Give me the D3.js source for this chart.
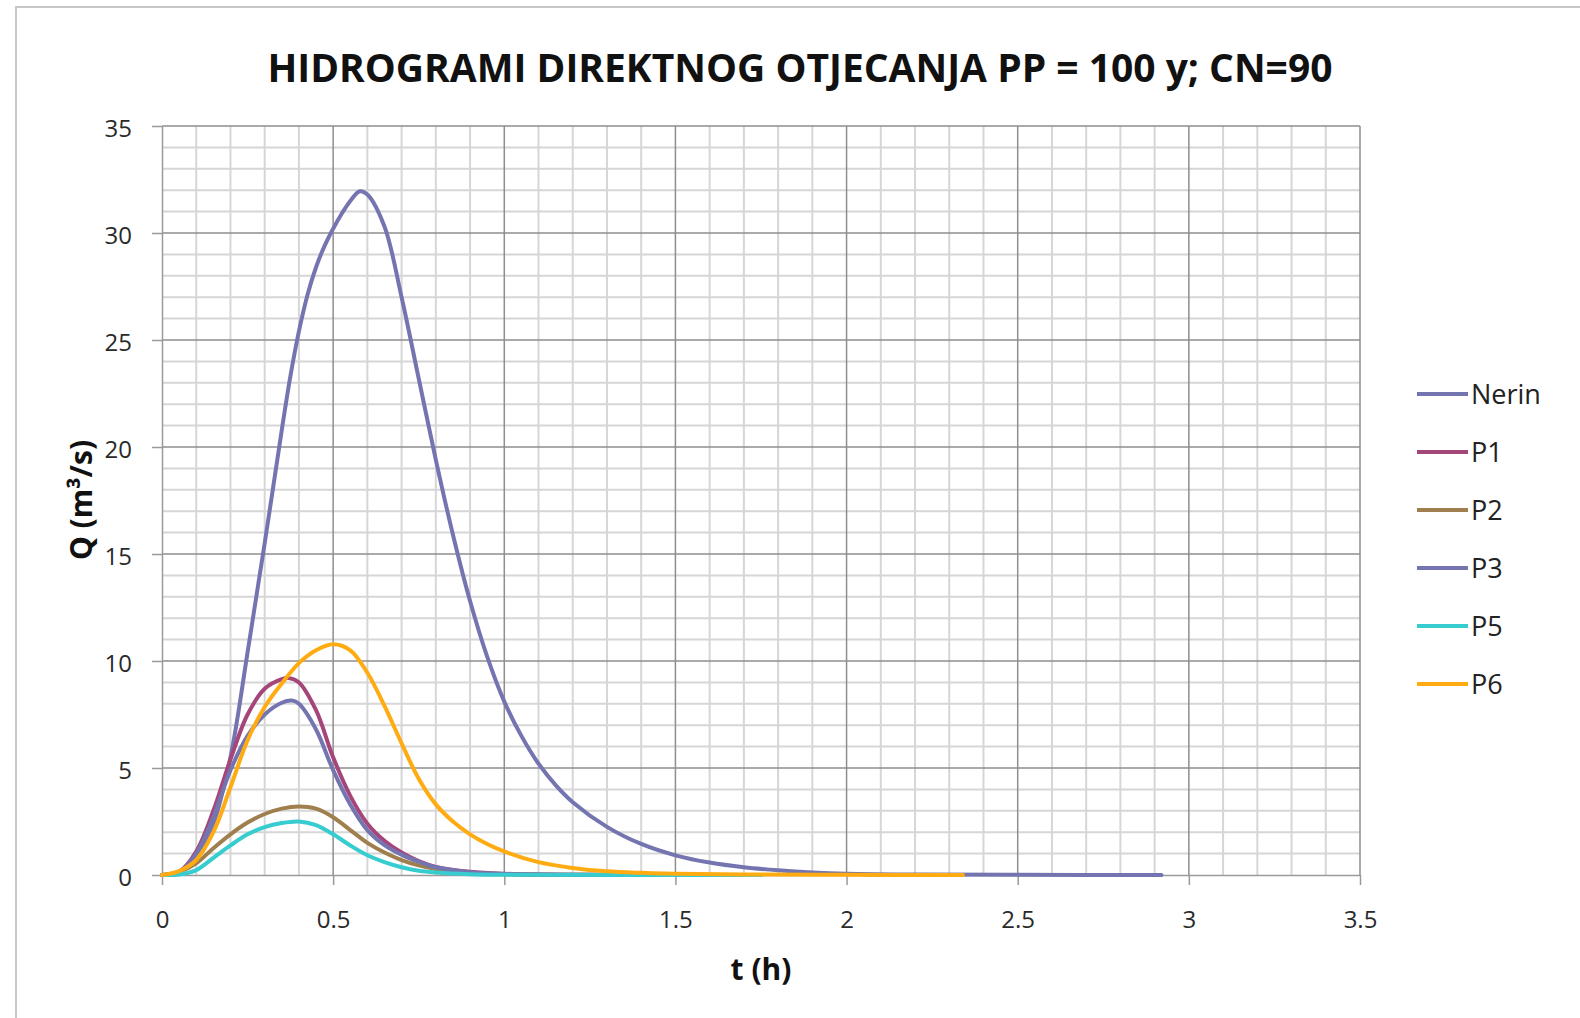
<!DOCTYPE html>
<html>
<head>
<meta charset="utf-8">
<script src="https://cdn.jsdelivr.net/npm/d3@7"></script>
<style>
  body { margin: 0; background: #fff; }
  .grid-minor line { stroke: #d6d6d6; stroke-width: 2; }
  .grid-major line { stroke: #8e8e8e; stroke-width: 1.5; }
  .axis path, .axis line { stroke: #9a9a9a; stroke-width: 1.5; }
  .axis text { font-family: "Open Sans", sans-serif; font-size: 24px; fill: #2a2a2a; }
</style>
</head>
<body>
<div id="chart"></div>
<script>
// t (h), Q (m3/s)
var nerin = [[0,0],[0.05,0.15],[0.1,0.8],[0.15,2.4],[0.2,5.5],[0.25,10.4],[0.3,15.5],[0.35,20.8],[0.375,23.3],[0.4,25.4],[0.425,27.1],[0.45,28.4],[0.475,29.4],[0.5,30.2],[0.525,30.9],[0.55,31.5],[0.578,31.95],[0.6,31.8],[0.65,30.3],[0.7,27.0],[0.75,23.2],[0.8,19.4],[0.85,15.9],[0.9,12.8],[0.95,10.2],[1.0,8.1],[1.05,6.5],[1.1,5.2],[1.15,4.2],[1.2,3.4],[1.3,2.25],[1.4,1.45],[1.5,0.92],[1.6,0.58],[1.7,0.36],[1.8,0.22],[1.9,0.12],[2.0,0.06],[2.2,0.02],[2.5,0.01],[2.92,0]];
var p1 = [[0,0],[0.05,0.15],[0.1,1.1],[0.15,3.0],[0.2,5.4],[0.25,7.5],[0.3,8.7],[0.35,9.15],[0.37,9.2],[0.4,9.0],[0.45,7.7],[0.5,5.5],[0.55,3.7],[0.6,2.4],[0.65,1.6],[0.7,1.05],[0.75,0.65],[0.8,0.38],[0.9,0.15],[1.0,0.06],[1.2,0.01],[1.75,0]];
var p2 = [[0,0],[0.05,0.15],[0.1,0.55],[0.15,1.25],[0.2,1.9],[0.25,2.45],[0.3,2.85],[0.35,3.1],[0.4,3.2],[0.45,3.1],[0.5,2.7],[0.55,2.1],[0.6,1.5],[0.65,1.05],[0.7,0.7],[0.75,0.45],[0.8,0.28],[0.9,0.1],[1.0,0.04],[1.2,0.01],[1.75,0]];
var p3 = [[0,0],[0.05,0.12],[0.1,1.0],[0.15,2.7],[0.2,4.9],[0.25,6.5],[0.3,7.5],[0.35,8.05],[0.38,8.15],[0.4,8.0],[0.45,6.8],[0.5,4.9],[0.55,3.3],[0.6,2.1],[0.65,1.4],[0.7,0.95],[0.75,0.62],[0.8,0.36],[0.9,0.13],[1.0,0.05],[1.2,0.01],[1.75,0]];
var p5 = [[0,0],[0.05,0.02],[0.1,0.23],[0.15,0.8],[0.2,1.38],[0.25,1.9],[0.3,2.24],[0.35,2.43],[0.4,2.5],[0.45,2.33],[0.5,1.9],[0.55,1.38],[0.6,0.92],[0.65,0.6],[0.7,0.36],[0.75,0.2],[0.8,0.12],[0.9,0.04],[1.0,0.01],[1.75,0]];
var p6 = [[0,0],[0.05,0.18],[0.1,0.7],[0.15,2.0],[0.2,4.1],[0.25,6.3],[0.3,7.85],[0.35,8.95],[0.4,9.9],[0.45,10.5],[0.5,10.78],[0.55,10.5],[0.6,9.45],[0.65,7.9],[0.7,6.15],[0.75,4.5],[0.8,3.3],[0.85,2.5],[0.9,1.9],[0.95,1.45],[1.0,1.1],[1.1,0.6],[1.2,0.33],[1.3,0.17],[1.4,0.1],[1.5,0.06],[1.7,0.02],[2.0,0.01],[2.34,0]];

var seriesNames = ["Nerin", "P1", "P2", "P3", "P5", "P6"];
var seriesColors = ["#7474b0", "#a5467b", "#a07f4e", "#7474b0", "#36ccd0", "#ffab12"];
var seriesData = [nerin, p1, p2, p3, p5, p6];

var xTicks = [0, 0.5, 1, 1.5, 2, 2.5, 3, 3.5];
var yTicks = [0, 5, 10, 15, 20, 25, 30, 35];

var titleText = "HIDROGRAMI DIREKTNOG OTJECANJA PP = 100 y; CN=90";

var margin = {top: 126, right: 220, bottom: 143, left: 162},
    width = 1580 - margin.left - margin.right,
    height = 1018 - margin.top - margin.bottom;

var svg = d3.select("#chart").append("svg")
    .attr("width", 1580)
    .attr("height", 1018)
    .style("display", "block");

// outer chart frame
svg.append("rect")
    .attr("x", 16).attr("y", 7)
    .attr("width", 1620).attr("height", 1060)
    .attr("fill", "#fff")
    .attr("stroke", "#c8c8c8")
    .attr("stroke-width", 2);

var g = svg.append("g")
    .attr("transform", "translate(" + margin.left + "," + margin.top + ")");

var xScale = d3.scaleLinear().domain([0, 3.5]).range([0, width]),
    yScale = d3.scaleLinear().domain([0, 35]).range([height, 0]);

// minor grid
g.append("g").attr("class", "grid-minor")
    .selectAll("line")
    .data(d3.range(1, 35).filter(function(d) { return d % 5 != 0; }))
    .enter().append("line")
    .attr("x1", 0).attr("x2", width)
    .attr("y1", function(d) { return yScale(d); })
    .attr("y2", function(d) { return yScale(d); });

g.append("g").attr("class", "grid-minor")
    .selectAll("line")
    .data(d3.range(1, 35).filter(function(d) { return d % 5 != 0; }))
    .enter().append("line")
    .attr("y1", 0).attr("y2", height)
    .attr("x1", function(d) { return xScale(d / 10); })
    .attr("x2", function(d) { return xScale(d / 10); });

// major grid
g.append("g").attr("class", "grid-major")
    .selectAll("line")
    .data(yTicks.slice(1))
    .enter().append("line")
    .attr("x1", 0).attr("x2", width)
    .attr("y1", function(d) { return yScale(d); })
    .attr("y2", function(d) { return yScale(d); });

g.append("g").attr("class", "grid-major")
    .selectAll("line")
    .data(xTicks.slice(1))
    .enter().append("line")
    .attr("y1", 0).attr("y2", height)
    .attr("x1", function(d) { return xScale(d); })
    .attr("x2", function(d) { return xScale(d); });

// axes
g.append("g")
    .attr("class", "x axis")
    .attr("transform", "translate(0," + height + ")")
    .call(d3.axisBottom(xScale).tickValues(xTicks).tickSize(10).tickSizeOuter(0).tickPadding(26)
        .tickFormat(function(d) { return d; }));

g.append("g")
    .attr("class", "y axis")
    .call(d3.axisLeft(yScale).tickValues(yTicks).tickSize(10).tickSizeOuter(0).tickPadding(20)
        .tickFormat(function(d) { return d; }))
    .selectAll("text")
    .attr("dy", "0.45em");

// curves (smoothed like the spreadsheet lines)
var line = d3.line()
    .x(function(d) { return xScale(d[0]); })
    .y(function(d) { return yScale(d[1]); })
    .curve(d3.curveCatmullRom.alpha(0.5));

g.selectAll(".series")
    .data(seriesData)
    .enter().append("path")
    .attr("class", "series")
    .attr("d", line)
    .attr("fill", "none")
    .attr("stroke", function(d, i) { return seriesColors[i]; })
    .attr("stroke-width", 4)
    .attr("stroke-linejoin", "round")
    .attr("stroke-linecap", "round");

// title
svg.append("text")
    .attr("x", 800)
    .attr("y", 66)
    .attr("text-anchor", "middle")
    .attr("dominant-baseline", "central")
    .attr("textLength", 1065)
    .attr("lengthAdjust", "spacingAndGlyphs")
    .style("font-family", "'Open Sans', sans-serif")
    .style("font-weight", "bold")
    .style("font-size", "40px")
    .style("fill", "#111")
    .text(titleText);

// axis titles
svg.append("text")
    .attr("transform", "translate(80," + 500 + ") rotate(-90)")
    .attr("text-anchor", "middle")
    .attr("dominant-baseline", "central")
    .style("font-family", "'Open Sans', sans-serif")
    .style("font-weight", "bold")
    .style("font-size", "30px")
    .style("fill", "#111")
    .text("Q (m³/s)");

svg.append("text")
    .attr("x", 761)
    .attr("y", 968)
    .attr("text-anchor", "middle")
    .attr("dominant-baseline", "central")
    .style("font-family", "'Open Sans', sans-serif")
    .style("font-weight", "bold")
    .style("font-size", "30px")
    .style("fill", "#111")
    .text("t (h)");

// legend
var legend = svg.append("g")
    .selectAll(".legend")
    .data(seriesNames)
    .enter().append("g")
    .attr("class", "legend")
    .attr("transform", function(d, i) { return "translate(1417," + (394 + i * 58) + ")"; });

legend.append("line")
    .attr("x1", 0).attr("x2", 51)
    .attr("y1", 0).attr("y2", 0)
    .attr("stroke", function(d, i) { return seriesColors[i]; })
    .attr("stroke-width", 4);

legend.append("text")
    .attr("x", 54)
    .attr("y", 0)
    .attr("dy", "0.38em")
    .style("font-family", "'Open Sans', sans-serif")
    .style("font-size", "27px")
    .style("fill", "#222")
    .text(function(d) { return d; });
</script>
</body>
</html>
